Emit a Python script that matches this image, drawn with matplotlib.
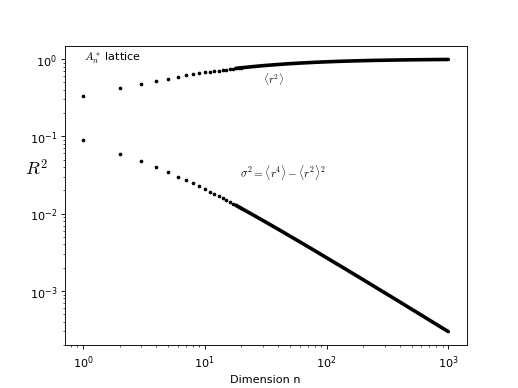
import numpy as np
import matplotlib.pyplot as plt

plt.rcParams['mathtext.fontset'] = 'cm'

# ------------------------------------------
# values
# ------------------------------------------
# low dimensions, drawn as separate dots
n_dots = [1, 2, 3, 4, 5, 6, 7, 8, 9, 10,
          11, 12, 13, 14, 15, 16, 17, 18, 19, 20]
r2_dots = [0.3333, 0.4167, 0.4762, 0.5217, 0.5581, 0.5881, 0.6134, 0.6351, 0.6540, 0.6706,
           0.6854, 0.6987, 0.7107, 0.7216, 0.7316, 0.7408, 0.7492, 0.7570, 0.7643, 0.7711]
var_dots = [0.0889, 0.0597, 0.0475, 0.0397, 0.0342, 0.0301, 0.0271, 0.0246, 0.02249, 0.0208,
            0.01928, 0.01798, 0.01684, 0.01584, 0.01495, 0.01416, 0.01345, 0.01281, 0.01223, 0.01170]

# higher dimensions, where the dots merge into a thick band
n_band = [18, 20, 25, 30, 40, 50, 60, 80, 100, 130, 160,
          200, 250, 300, 400, 500, 600, 700, 800, 1000]
r2_band = [0.7570, 0.7711, 0.7991, 0.8203, 0.8503, 0.8709, 0.8860, 0.9069, 0.9208, 0.9348, 0.9443,
           0.9530, 0.9606, 0.9659, 0.9729, 0.9774, 0.9805, 0.9828, 0.9846, 0.9873]
var_band = [0.01281, 0.01170, 0.00961, 0.00817, 0.00630, 0.00513, 0.00434, 0.00332, 0.00269, 0.002103, 0.001728,
            0.001398, 0.001130, 0.000949, 0.000721, 0.000581, 0.000488, 0.000420, 0.000369, 0.000298]

fig, ax = plt.subplots(figsize=(6.4, 4.8), dpi=81)

ax.loglog(n_dots, r2_dots, 'k.', ms=4.5)
ax.loglog(n_dots, var_dots, 'k.', ms=4.5)
ax.loglog(n_band, r2_band, 'k-', lw=3.2, solid_capstyle='round')
ax.loglog(n_band, var_band, 'k-', lw=3.2, solid_capstyle='round')

ax.text(0.047, 0.96, r'$A_n^*$ lattice', transform=ax.transAxes,
        ha='left', va='center', fontsize=10)
ax.text(0.519, 0.892, r'$\langle r^2\rangle$', transform=ax.transAxes,
        ha='center', va='center', fontsize=9.5)
ax.text(0.543, 0.579, r'$\sigma^2=\langle r^4\rangle-\langle r^2\rangle^2$',
        transform=ax.transAxes, ha='center', va='center', fontsize=10)

ax.set_xlabel('Dimension n')
ax.set_ylabel('$R^2$', rotation=0, fontsize=16, ha='center', va='center')
ax.yaxis.set_label_coords(-0.07, 0.59)

plt.savefig('out.png', dpi=81)
